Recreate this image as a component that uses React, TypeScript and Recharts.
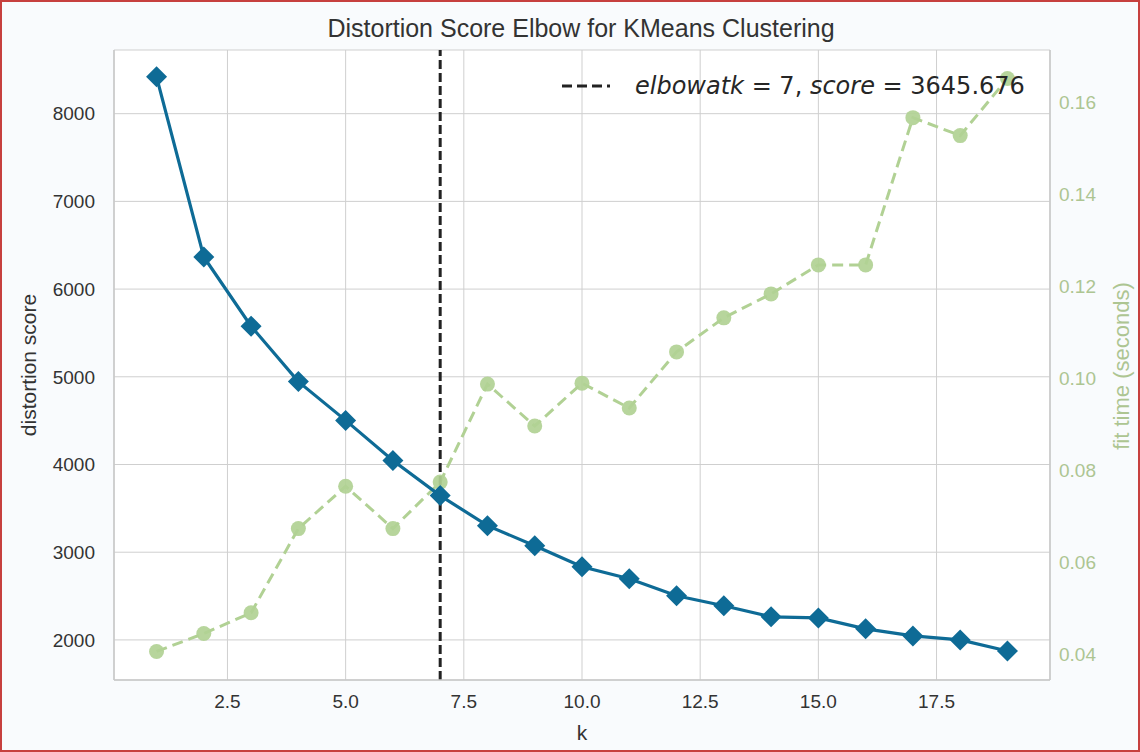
import React from 'react'
import {
  LineChart,
  Line,
  XAxis,
  YAxis,
  CartesianGrid,
  ReferenceLine,
  Label
} from 'recharts'

const kValues = [1, 2, 3, 4, 5, 6, 7, 8, 9, 10, 11, 12, 13, 14, 15, 16, 17, 18, 19]
const distortion = [
  8420, 6366, 5577, 4945, 4503, 4046, 3645.676, 3303, 3074, 2834, 2697, 2503,
  2389, 2263, 2251, 2126, 2046, 2000, 1874
]
const fitTime = [
  0.0407, 0.0446, 0.0491, 0.0674, 0.0766, 0.0674, 0.0775, 0.0988, 0.0897,
  0.099, 0.0936, 0.1058, 0.1132, 0.1184, 0.1247, 0.1247, 0.1567, 0.1528, 0.1652
]
const xTicks = [2.5, 5.0, 7.5, 10.0, 12.5, 15.0, 17.5]
const leftTicks = [2000, 3000, 4000, 5000, 6000, 7000, 8000]
const rightTicks = [0.04, 0.06, 0.08, 0.1, 0.12, 0.14, 0.16]
const elbowK = 7
const elbowScore = 3645.676

const data = kValues.map((k, i) => ({
  k,
  distortion: distortion[i],
  fitTime: fitTime[i]
}))

const BLUE = '#0e6b96'
const GREEN = '#b1d194'
const GREEN_TEXT = '#adc592'
const GRID = '#cfcfcf'
const TEXT = '#333333'
const FONT = '"Liberation Sans", Arial, sans-serif'

const Diamond = (props: any) => {
  const { cx, cy } = props
  if (cx == null || cy == null) return null
  const r = 10.5
  return (
    <polygon
      points={`${cx},${cy - r} ${cx + r},${cy} ${cx},${cy + r} ${cx - r},${cy}`}
      fill={BLUE}
    />
  )
}

const Dot = (props: any) => {
  const { cx, cy } = props
  if (cx == null || cy == null) return null
  return <circle cx={cx} cy={cy} r={7.5} fill={GREEN} fillOpacity={0.92} />
}

export default function App() {
  return (
    <div
      style={{
        position: 'absolute',
        left: 0,
        top: 0,
        width: 1140,
        height: 752,
        background: '#f9fbfd',
        fontFamily: FONT
      }}
    >
      <LineChart
        width={1140}
        height={752}
        data={data}
        margin={{ top: 50, right: 0, bottom: 0, left: 0 }}
      >
        <CartesianGrid
          xAxisId="bottom"
          yAxisId="left"
          stroke={GRID}
          strokeWidth={1}
          fill="#ffffff"
        />
        <XAxis
          xAxisId="bottom"
          dataKey="k"
          type="number"
          domain={[0.1, 19.9]}
          allowDataOverflow
          ticks={xTicks}
          tickFormatter={(v: number) => v.toFixed(1)}
          height={72}
          tickSize={0}
          tickMargin={15}
          tickLine={false}
          axisLine={{ stroke: '#c8c8c8', strokeWidth: 1.5 }}
          tick={{ fill: TEXT, fontSize: 19, fontFamily: FONT }}
        >
          <Label
            content={(p: any) => {
              const vb = p.viewBox
              return (
                <text
                  x={vb.x + vb.width / 2}
                  y={740}
                  textAnchor="middle"
                  fontSize={21}
                  fill={TEXT}
                  fontFamily={FONT}
                >
                  k
                </text>
              )
            }}
          />
        </XAxis>
        <XAxis
          xAxisId="top"
          orientation="top"
          dataKey="k"
          type="number"
          domain={[0.1, 19.9]}
          allowDataOverflow
          height={0}
          tick={false}
          tickLine={false}
          axisLine={{ stroke: '#c8c8c8', strokeWidth: 1.5 }}
        />
        <YAxis
          yAxisId="left"
          type="number"
          domain={[1543, 8726]}
          allowDataOverflow
          ticks={leftTicks}
          width={114}
          tickSize={0}
          tickMargin={19}
          tickLine={false}
          axisLine={{ stroke: '#c8c8c8', strokeWidth: 1.5 }}
          tick={{ fill: TEXT, fontSize: 19, fontFamily: FONT }}
        >
          <Label
            content={() => (
              <text
                x={36}
                y={365}
                transform="rotate(-90 36 365)"
                textAnchor="middle"
                fontSize={21}
                fill={TEXT}
                fontFamily={FONT}
              >
                distortion score
              </text>
            )}
          />
        </YAxis>
        <YAxis
          yAxisId="right"
          orientation="right"
          type="number"
          domain={[0.0345, 0.1714]}
          allowDataOverflow
          ticks={rightTicks}
          tickFormatter={(v: number) => v.toFixed(2)}
          width={90}
          tickSize={0}
          tickMargin={9}
          tickLine={false}
          axisLine={{ stroke: '#c8c8c8', strokeWidth: 1.5 }}
          tick={{ fill: GREEN_TEXT, fontSize: 19, fontFamily: FONT }}
        >
          <Label
            content={() => (
              <text
                x={1129}
                y={366}
                transform="rotate(-90 1129 366)"
                textAnchor="middle"
                fontSize={22}
                fill={GREEN_TEXT}
                fontFamily={FONT}
              >
                fit time (seconds)
              </text>
            )}
          />
        </YAxis>
        <Line
          xAxisId="bottom"
          yAxisId="right"
          dataKey="fitTime"
          type="linear"
          stroke={GREEN}
          strokeWidth={3}
          strokeDasharray="11 6"
          dot={<Dot />}
          activeDot={false}
          isAnimationActive={false}
        />
        <Line
          xAxisId="bottom"
          yAxisId="left"
          dataKey="distortion"
          type="linear"
          stroke={BLUE}
          strokeWidth={3.2}
          dot={<Diamond />}
          activeDot={false}
          isAnimationActive={false}
        />
        <ReferenceLine
          xAxisId="bottom"
          yAxisId="left"
          x={elbowK}
          stroke="#222222"
          strokeWidth={3}
          strokeDasharray="9 4"
        />
      </LineChart>

      <div
        style={{
          position: 'absolute',
          left: 0,
          top: 14,
          width: 1162,
          textAlign: 'center',
          fontSize: 25,
          color: TEXT,
          fontFamily: FONT
        }}
      >
        Distortion Score Elbow for KMeans Clustering
      </div>

      <div
        style={{
          position: 'absolute',
          left: 560,
          top: 72,
          display: 'flex',
          alignItems: 'center',
          fontFamily: '"DejaVu Sans", sans-serif',
          fontSize: 24,
          color: '#262626',
          whiteSpace: 'nowrap'
        }}
      >
        <svg width={52} height={20} style={{ marginRight: 23 }}>
          <line
            x1={2}
            y1={10}
            x2={50}
            y2={10}
            stroke="#222222"
            strokeWidth={3}
            strokeDasharray="10 5"
          />
        </svg>
        <span>
          <i>elbowatk</i> = 7, <i>score</i> = {elbowScore.toFixed(3)}
        </span>
      </div>

      <div
        style={{
          position: 'absolute',
          left: 0,
          top: 0,
          width: 1140,
          height: 752,
          boxSizing: 'border-box',
          border: '2px solid #c7403e',
          pointerEvents: 'none'
        }}
      />
    </div>
  )
}
